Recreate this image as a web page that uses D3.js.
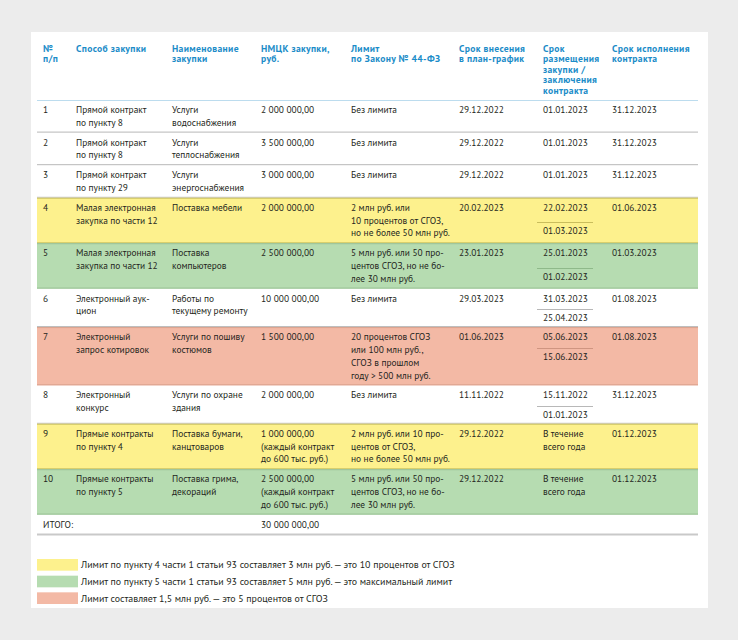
<!DOCTYPE html>
<html><head><meta charset="utf-8">
<script src="https://cdn.jsdelivr.net/npm/d3@7"></script>
<style>
html,body{margin:0;padding:0;background:#ececec;}
svg{display:block;}
</style></head>
<body>
<script>
// ---------- DATA ----------
const headers = ["№|п/п","Способ закупки","Наименование|закупки","НМЦК закупки,|руб.","Лимит|по Закону № 44-ФЗ","Срок внесения|в план-график","Срок|размещения|закупки /|заключения|контракта","Срок исполнения|контракта"];
const nums = ["1","2","3","4","5","6","7","8","9","10"];
const methods = ["Прямой контракт|по пункту 8","Прямой контракт|по пункту 8","Прямой контракт|по пункту 29","Малая электронная|закупка по части 12","Малая электронная|закупка по части 12","Электронный аук-|цион","Электронный|запрос котировок","Электронный|конкурс","Прямые контракты|по пункту 4","Прямые контракты|по пункту 5"];
const names = ["Услуги|водоснабжения","Услуги|теплоснабжения","Услуги|энергоснабжения","Поставка мебели","Поставка|компьютеров","Работы по|текущему ремонту","Услуги по пошиву|костюмов","Услуги по охране|здания","Поставка бумаги,|канцтоваров","Поставка грима,|декораций"];
const prices = ["2 000 000,00","3 500 000,00","3 000 000,00","2 000 000,00","2 500 000,00","10 000 000,00","1 500 000,00","2 000 000,00","1 000 000,00|(каждый контракт|до 600 тыс. руб.)","2 500 000,00|(каждый контракт|до 600 тыс. руб.)"];
const limits = ["Без лимита","Без лимита","Без лимита","2 млн руб. или|10 процентов от СГОЗ,|но не более 50 млн руб.","5 млн руб. или 50 про-|центов СГОЗ, но не бо-|лее 30 млн руб.","Без лимита","20 процентов СГОЗ|или 100 млн руб.,|СГОЗ в прошлом|году > 500 млн руб.","Без лимита","2 млн руб. или 10 про-|центов от СГОЗ,|но не более 50 млн руб.","5 млн руб. или 50 про-|центов СГОЗ, но не бо-|лее 30 млн руб."];
const planDates = ["29.12.2022","29.12.2022","29.12.2022","20.02.2023","23.01.2023","29.03.2023","01.06.2023","11.11.2022","29.12.2022","29.12.2022"];
const placeDates = [["01.01.2023"],["01.01.2023"],["01.01.2023"],["22.02.2023","01.03.2023"],["25.01.2023","01.02.2023"],["31.03.2023","25.04.2023"],["05.06.2023","15.06.2023"],["15.11.2022","01.01.2023"],["В течение|всего года"],["В течение|всего года"]];
const execDates = ["31.12.2023","31.12.2023","31.12.2023","01.06.2023","01.03.2023","01.08.2023","01.08.2023","31.12.2023","01.12.2023","01.12.2023"];
const rowGroups = ["none","none","none","p4","p5","none","lim15","none","p4","p5"];
const totalLabel = "ИТОГО:";
const totalValue = "30 000 000,00";
const legendKeys = ["p4","p5","lim15"];
const legendTexts = ["Лимит по пункту 4 части 1 статьи 93 составляет 3 млн руб. — это 10 процентов от СГОЗ","Лимит по пункту 5 части 1 статьи 93 составляет 5 млн руб. — это максимальный лимит","Лимит составляет 1,5 млн руб. — это 5 процентов от СГОЗ"];

// ---------- STYLE / LAYOUT ----------
const W = 738, H = 640;
const fillColor = d3.scaleOrdinal().domain(["none","p4","p5","lim15"]).range(["#ffffff","#fdf18d","#b6dcb1","#f3b9a5"]);
const lineColor = d3.scaleOrdinal().domain(["none","p4","p5","lim15"]).range(["#b8b8b8","#cfc767","#98bf93","#d9a28e"]);
const subColor = d3.scaleOrdinal().domain(["none","p4","p5","lim15"]).range(["#b8b8b8","#c9bd5c","#8fb98a","#cf9581"]);
const colKeys = ["num","method","name","price","limit","plan","place","exec"];
const colX = d3.scaleOrdinal().domain(colKeys).range([43,76,172,261,351,459,543,612]);
const tableL = 37, tableR = 698;
const headerBottom = 100;
const LH = 12.8;
const FONT = "'PT Sans','Noto Sans','Open Sans',sans-serif";
const BODY = "#231f20", BLUE = "#1b8cc8";

const svg = d3.select("body").append("svg").attr("width",W).attr("height",H);
svg.append("rect").attr("width",W).attr("height",H).attr("fill","#ececec");
svg.append("rect").attr("x",31).attr("y",32).attr("width",677).attr("height",576).attr("fill","#ffffff");

function multiText(g, x, y, str, lh, attrs){
  const parts = str.split("|");
  parts.forEach((s,i)=>{
    const t = g.append("text").attr("x",x).attr("y",y+i*lh);
    Object.entries(attrs).forEach(([k,v])=>t.attr(k,v));
    t.text(s);
  });
}

// header
const hg = svg.append("g");
headers.forEach((h,i)=>{
  multiText(hg, colX(colKeys[i]), 51.5, h, 10.6, {"font-family":FONT,"font-size":"9.6px","font-weight":"bold","fill":BLUE,"letter-spacing":"0.35px"});
});
svg.append("line").attr("x1",tableL).attr("x2",tableR).attr("y1",headerBottom+0.5).attr("y2",headerBottom+0.5).attr("stroke","#bcdcee").attr("stroke-width",1);

// rows
const rows = nums.map((n,i)=>({num:n,method:methods[i],name:names[i],price:prices[i],limit:limits[i],plan:planDates[i],place:placeDates[i],exec:execDates[i],group:rowGroups[i]}));
let y = headerBottom;
rows.forEach(r=>{
  const cells = [r.num,r.method,r.name,r.price,r.limit,r.plan,r.exec].concat(r.place);
  let n = d3.max(cells, c=>c.split("|").length);
  let h = 7 + LH*n;
  if (r.place.length>1) h = Math.max(h, 38.5);
  r.top = y; r.h = h; r.n = n;
  y += h;
});
const totalTop = y, totalH = 7 + LH;

const rg = svg.append("g");
const attrs = {"font-family":FONT,"font-size":"9.4px","fill":BODY};
rows.forEach(r=>{
  const g = rg.append("g");
  if (r.group!=="none"){
    g.append("rect").attr("x",tableL).attr("y",r.top).attr("width",tableR-tableL).attr("height",r.h).attr("fill",fillColor(r.group));
    g.append("line").attr("x1",tableL).attr("x2",tableR).attr("y1",r.top+0.5).attr("y2",r.top+0.5).attr("stroke",lineColor(r.group));
  }
  g.append("line").attr("x1",tableL).attr("x2",tableR).attr("y1",r.top+r.h-0.5).attr("y2",r.top+r.h-0.5).attr("stroke",lineColor(r.group)).attr("stroke-width",1);
  const base = r.top + 13;
  ["num","method","name","price","limit","plan","exec"].forEach(k=>{
    multiText(g, colX(k), base, r[k], LH, attrs);
  });
  if (r.place.length===1){
    multiText(g, colX("place"), base, r.place[0], LH, attrs);
  } else {
    const off = r.n===3 ? 23.5 : 19.5;
    multiText(g, colX("place"), base, r.place[0], LH, attrs);
    const ly = Math.round(base + off - 12) + 0.5;
    g.append("line").attr("x1",537).attr("x2",593).attr("y1",ly).attr("y2",ly).attr("stroke",subColor(r.group));
    multiText(g, colX("place"), base+off, r.place[1], LH, attrs);
  }
});
// total
const tg = svg.append("g");
tg.append("text").attr("x",colX("num")).attr("y",totalTop+13).attr("font-family",FONT).attr("font-size","9.4px").attr("fill",BODY).text(totalLabel);
tg.append("text").attr("x",colX("price")).attr("y",totalTop+13).attr("font-family",FONT).attr("font-size","9.4px").attr("fill",BODY).text(totalValue);
tg.append("line").attr("x1",tableL).attr("x2",tableR).attr("y1",totalTop+totalH).attr("y2",totalTop+totalH).attr("stroke","#c9c9c9").attr("stroke-width",2);

// legend
const lg = svg.append("g");
const lyS = d3.scaleBand().domain(legendKeys).range([559,604]).paddingInner(0.3);
legendKeys.forEach((k,i)=>{
  lg.append("rect").attr("x",tableL).attr("y",lyS(k)).attr("width",41).attr("height",lyS.bandwidth()).attr("fill",fillColor(k));
  lg.append("text").attr("x",81).attr("y",lyS(k)+lyS.bandwidth()/2+3.4).attr("font-family",FONT).attr("font-size","9.9px").attr("fill",BODY).text(legendTexts[i]);
});
</script>
</body></html>
